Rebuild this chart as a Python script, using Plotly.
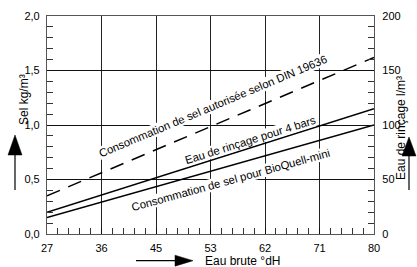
import plotly.graph_objects as go

# ---- data ----
hardness = [27, 36, 45, 53, 62, 71, 80]          # x tick labels (°dH), equally spaced
line_x = [27, 80]                                 # endpoints of straight lines
salt_allowed = [0.35, 1.62]                       # dashed, kg/m³ (DIN 19636)
rinse_water = [20, 115]                           # l/m³ (right axis)
salt_bioquell = [0.15, 1.00]                      # kg/m³

pos = [hardness.index(v) for v in line_x]

# plot geometry (pixels)
W, H = 417, 267
L, R, T, B = 47, 374, 16, 234

def px(x):
    return (x - L) / (R - L)

def py(y):
    return (B - y) / (B - T)

fig = go.Figure()
fig.add_trace(go.Scatter(x=pos, y=salt_allowed, mode="lines",
                         line=dict(color="black", width=1.5, dash="14px,9px"),
                         showlegend=False, hoverinfo="skip"))
fig.add_trace(go.Scatter(x=pos, y=rinse_water, mode="lines", yaxis="y2",
                         line=dict(color="black", width=1.5),
                         showlegend=False, hoverinfo="skip"))
fig.add_trace(go.Scatter(x=pos, y=salt_bioquell, mode="lines",
                         line=dict(color="black", width=1.5),
                         showlegend=False, hoverinfo="skip"))

font = dict(family="Liberation Sans, Arial, sans-serif", size=12, color="black")
lblfont = dict(family="Liberation Sans, Arial, sans-serif", size=11.3, color="black")
tickfont = dict(family="Liberation Sans, Arial, sans-serif", size=11, color="black")

annotations = [
    dict(x=3.05, y=1.17, xref="x", yref="y", text="Consommation de sel autorisée selon DIN 19636",
         showarrow=False, textangle=-22.8, font=lblfont, bgcolor="white", borderpad=0),
    dict(x=3.73, y=0.865, xref="x", yref="y", text="Eau de rinçage pour 4 bars",
         showarrow=False, textangle=-17.5, font=lblfont, bgcolor="white", borderpad=0),
    dict(x=3.37, y=0.495, xref="x", yref="y", text="Consommation de sel pour BioQuell-mini",
         showarrow=False, textangle=-15.5, font=lblfont, bgcolor="white", borderpad=0),
    dict(x=px(203), y=py(260.5), xref="paper", yref="paper", text="Eau brute °dH",
         showarrow=False, xanchor="left", yanchor="middle", font=font),
    dict(x=px(15), y=py(100), xref="paper", yref="paper", text="Sel kg/m³",
         showarrow=False, textangle=-90, font=font),
    dict(x=px(410), y=py(74), xref="paper", yref="paper", text="Eau de rinçage l/m³",
         showarrow=False, textangle=-90, font=font),
]

def tri(points):
    p = " L ".join(f"{px(a)},{py(b)}" for a, b in points)
    return "M " + p + " Z"

arrow_line = dict(color="black", width=1.2)
shapes = [
    # bottom arrow
    dict(type="line", xref="paper", yref="paper", x0=px(136), y0=py(260.7), x1=px(178), y1=py(260.7),
         line=arrow_line),
    dict(type="path", xref="paper", yref="paper", path=tri([(175, 255.2), (193, 260.7), (175, 266.2)]),
         fillcolor="black", line=dict(color="black", width=0.5)),
    # left arrow
    dict(type="line", xref="paper", yref="paper", x0=px(15), y0=py(190), x1=px(15), y1=py(150),
         line=arrow_line),
    dict(type="path", xref="paper", yref="paper", path=tri([(8, 155), (15, 135), (22, 155)]),
         fillcolor="black", line=dict(color="black", width=0.5)),
    # right arrow
    dict(type="line", xref="paper", yref="paper", x0=px(409), y0=py(190), x1=px(409), y1=py(152),
         line=arrow_line),
    dict(type="path", xref="paper", yref="paper", path=tri([(402, 156), (409, 137), (416, 156)]),
         fillcolor="black", line=dict(color="black", width=0.5)),
]

fig.update_layout(
    width=W, height=H,
    margin=dict(l=L, r=W - R, t=T, b=H - B, pad=0),
    paper_bgcolor="white", plot_bgcolor="white",
    separators=",.",
    font=font,
    showlegend=False,
    xaxis=dict(range=[0, 6], tickvals=list(range(len(hardness))), ticktext=[str(h) for h in hardness],
               showgrid=True, gridcolor="#222", gridwidth=1, zeroline=False,
               showline=True, linecolor="#555", linewidth=1.2, mirror=True,
               ticks="inside", ticklen=6, tickcolor="#111", ticklabelstandoff=4,
               minor=dict(dtick=0.2, tick0=0, ticks="inside", ticklen=6, tickcolor="#333", showgrid=False),
               tickfont=tickfont, fixedrange=True, automargin=False),
    yaxis=dict(range=[0, 2.0], dtick=0.5, tickformat=".1f",
               showgrid=True, gridcolor="#111", gridwidth=1, zeroline=False,
               showline=True, linecolor="#555", linewidth=1.2, mirror=True,
               ticks="inside", ticklen=6, tickcolor="#111", ticklabelstandoff=4,
               minor=dict(dtick=0.1, ticks="inside", ticklen=6, tickcolor="#333", showgrid=False),
               tickfont=tickfont, fixedrange=True, automargin=False),
    yaxis2=dict(range=[0, 200], dtick=50, overlaying="y", side="right",
                showgrid=False, zeroline=False,
                showline=True, linecolor="#555", linewidth=1.2,
                ticks="inside", ticklen=6, tickcolor="#111", ticklabelstandoff=5,
                minor=dict(dtick=10, ticks="inside", ticklen=6, tickcolor="#333"),
                tickfont=tickfont, fixedrange=True, automargin=False),
    annotations=annotations,
    shapes=shapes,
)

fig.write_html("out.html", config=dict(displayModeBar=False),
               post_script="document.body.style.margin='0';document.body.style.padding='0';document.body.style.overflow='hidden';")
